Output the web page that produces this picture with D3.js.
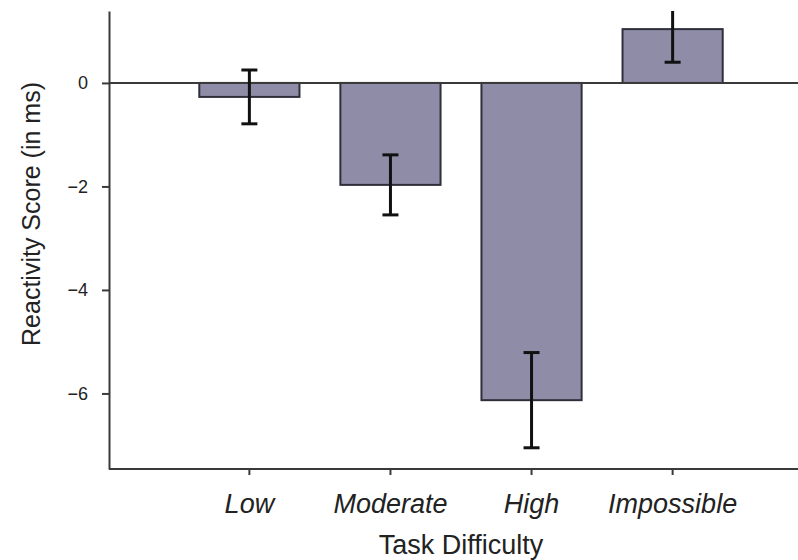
<!DOCTYPE html>
<meta charset="utf-8">
<head>
<style>
body { margin: 0; background: #fff; }
svg { display: block; font-family: "Liberation Sans", Arial, sans-serif; }
.axis path, .axis line { stroke: #3a3a3a; stroke-width: 2px; }
.axis text { font-size: 18px; fill: #222; }
.axis--x text { font-size: 27px; font-style: italic; }
.bar { fill: #8f8ca8; stroke: #2f2f3c; stroke-width: 2px; }
.err { stroke: #111; stroke-width: 3px; fill: none; }
.label { font-size: 27px; fill: #222; }
</style>
<script src="https://d3js.org/d3.v7.min.js"></script>
</head>
<body>
<svg id="plot" width="798" height="560"></svg>
<script>

// values
var categories = ["Low", "Moderate", "High", "Impossible"];
var means = [-0.27, -1.97, -6.13, 1.04];
var errs = [0.52, 0.58, 0.92, 0.64];
var yTicks = [0, -2, -4, -6];

var svg = d3.select("svg"),
    pLeft = 109, pRight = 798, pTop = 11, pBottom = 469;

var x = d3.scaleBand()
    .domain(categories)
    .range([pLeft, pLeft + 704])
    .paddingInner(0.29)
    .paddingOuter(0.64);

var y = d3.scaleLinear()
    .domain([-7.46, 1.39])
    .range([pBottom, pTop]);

var data = categories.map(function(c, i) {
  return {cat: c, mean: means[i], err: errs[i]};
});

svg.append("clipPath").attr("id", "clip")
  .append("rect")
    .attr("x", pLeft).attr("y", pTop)
    .attr("width", pRight - pLeft).attr("height", pBottom - pTop);

var g = svg.append("g").attr("clip-path", "url(#clip)");

// bars
g.selectAll(".bar").data(data).enter().append("rect")
    .attr("class", "bar")
    .attr("x", function(d) { return x(d.cat); })
    .attr("width", x.bandwidth())
    .attr("y", function(d) { return y(Math.max(0, d.mean)); })
    .attr("height", function(d) { return Math.abs(y(d.mean) - y(0)); });

// zero line
g.append("line")
    .attr("x1", pLeft).attr("x2", pRight)
    .attr("y1", y(0)).attr("y2", y(0))
    .attr("stroke", "#3a3a3a").attr("stroke-width", 2);

// error bars
var capW = 8;
var eb = g.selectAll(".eb").data(data).enter().append("g").attr("class", "eb");
eb.append("line").attr("class", "err")
    .attr("x1", function(d) { return x(d.cat) + x.bandwidth() / 2; })
    .attr("x2", function(d) { return x(d.cat) + x.bandwidth() / 2; })
    .attr("y1", function(d) { return y(d.mean + d.err); })
    .attr("y2", function(d) { return y(d.mean - d.err); });
[1, -1].forEach(function(s) {
  eb.append("line").attr("class", "err")
      .attr("x1", function(d) { return x(d.cat) + x.bandwidth() / 2 - capW; })
      .attr("x2", function(d) { return x(d.cat) + x.bandwidth() / 2 + capW; })
      .attr("y1", function(d) { return y(d.mean + s * d.err); })
      .attr("y2", function(d) { return y(d.mean + s * d.err); });
});

// axes
var yAxis = svg.append("g")
    .attr("class", "axis axis--y")
    .attr("transform", "translate(" + pLeft + ",0)")
    .call(d3.axisLeft(y).tickValues(yTicks).tickSize(7).tickSizeOuter(0)
      .tickFormat(function(d) { return d < 0 ? "\u2212" + Math.abs(d) : d; }));
yAxis.selectAll("text").attr("x", -21);

var xAxis = svg.append("g")
    .attr("class", "axis axis--x")
    .attr("transform", "translate(0," + pBottom + ")")
    .call(d3.axisBottom(x).tickSize(6).tickSizeOuter(0));
xAxis.select(".domain").attr("d", "M" + pLeft + ",0H" + pRight);
xAxis.selectAll("text").attr("y", 44).attr("dy", 0);

// axis titles
svg.append("text")
    .attr("class", "label")
    .attr("text-anchor", "middle")
    .attr("x", (x("Moderate") + x("High") + x.bandwidth()) / 2)
    .attr("y", 554)
    .text("Task Difficulty");

svg.append("text")
    .attr("class", "label")
    .attr("text-anchor", "middle")
    .attr("transform", "translate(40,214) rotate(-90)")
    .style("font-size", "25px")
    .text("Reactivity Score (in ms)");

</script>
</body>
